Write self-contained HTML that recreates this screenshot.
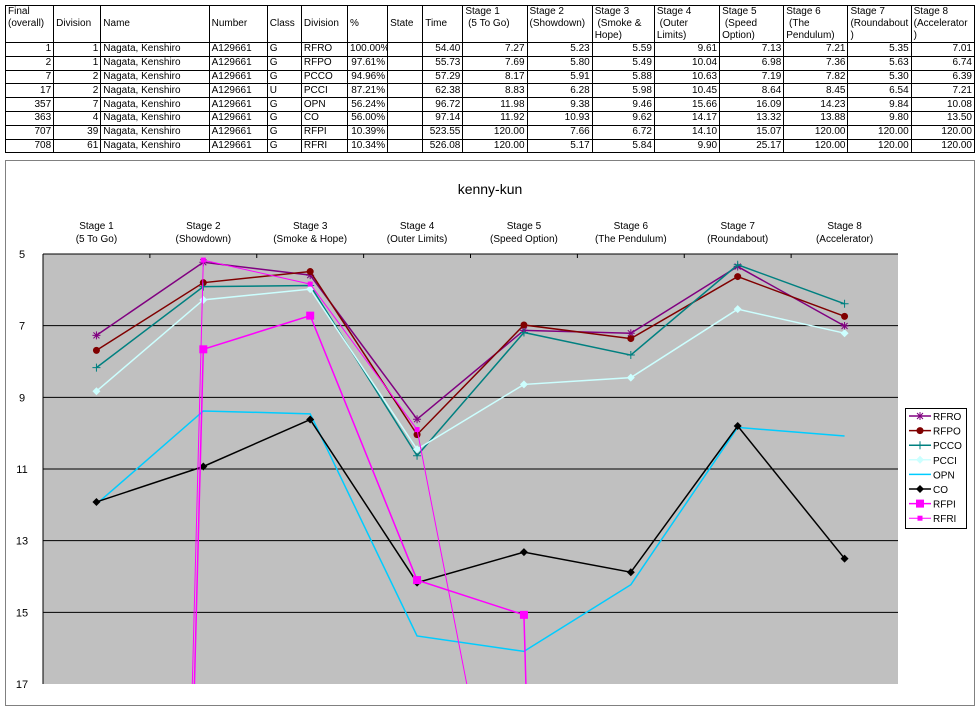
<!DOCTYPE html>
<html style="overflow:hidden;width:980px;height:709px"><head><meta charset="utf-8"><style>
body{margin:0;width:980px;height:709px;background:#fff;font-family:"Liberation Sans","Noto Sans CJK JP",sans-serif;overflow:hidden;position:relative}
table{position:absolute;left:5px;top:5px;border-collapse:collapse;font-size:10px;table-layout:fixed;width:970px}
td{border:1px solid #000;padding:0 2px;height:13.8px;line-height:12px;white-space:nowrap;overflow:hidden;box-sizing:border-box}
tr.h td{height:37px;vertical-align:top;line-height:12px;padding-top:0}
td.r{text-align:right}
</style></head><body>
<table>
<colgroup><col style="width:48px"><col style="width:47px"><col style="width:108px"><col style="width:58px"><col style="width:34px"><col style="width:46px"><col style="width:40px"><col style="width:35px"><col style="width:40px"><col style="width:64px"><col style="width:65px"><col style="width:62px"><col style="width:65px"><col style="width:64px"><col style="width:64px"><col style="width:63px"><col style="width:63px"></colgroup>
<tr class="h"><td>Final<br>(overall)</td><td style="vertical-align:middle">Division</td><td style="vertical-align:middle">Name</td><td style="vertical-align:middle">Number</td><td style="vertical-align:middle">Class</td><td style="vertical-align:middle">Division</td><td style="vertical-align:middle">%</td><td style="vertical-align:middle">State</td><td style="vertical-align:middle">Time</td><td>Stage 1<br>&nbsp;(5 To Go)</td><td>Stage 2<br>(Showdown)</td><td>Stage 3<br>&nbsp;(Smoke &amp;<br>Hope)</td><td>Stage 4<br>&nbsp;(Outer<br>Limits)</td><td>Stage 5<br>&nbsp;(Speed<br>Option)</td><td>Stage 6<br>&nbsp;(The<br>Pendulum)</td><td>Stage 7<br>(Roundabout<br>)</td><td>Stage 8<br>(Accelerator<br>)</td></tr>
<tr><td class="r">1</td><td class="r">1</td><td>Nagata, Kenshiro</td><td>A129661</td><td>G</td><td>RFRO</td><td class="r">100.00%</td><td></td><td class="r">54.40</td><td class="r">7.27</td><td class="r">5.23</td><td class="r">5.59</td><td class="r">9.61</td><td class="r">7.13</td><td class="r">7.21</td><td class="r">5.35</td><td class="r">7.01</td></tr>
<tr><td class="r">2</td><td class="r">1</td><td>Nagata, Kenshiro</td><td>A129661</td><td>G</td><td>RFPO</td><td class="r">97.61%</td><td></td><td class="r">55.73</td><td class="r">7.69</td><td class="r">5.80</td><td class="r">5.49</td><td class="r">10.04</td><td class="r">6.98</td><td class="r">7.36</td><td class="r">5.63</td><td class="r">6.74</td></tr>
<tr><td class="r">7</td><td class="r">2</td><td>Nagata, Kenshiro</td><td>A129661</td><td>G</td><td>PCCO</td><td class="r">94.96%</td><td></td><td class="r">57.29</td><td class="r">8.17</td><td class="r">5.91</td><td class="r">5.88</td><td class="r">10.63</td><td class="r">7.19</td><td class="r">7.82</td><td class="r">5.30</td><td class="r">6.39</td></tr>
<tr><td class="r">17</td><td class="r">2</td><td>Nagata, Kenshiro</td><td>A129661</td><td>U</td><td>PCCI</td><td class="r">87.21%</td><td></td><td class="r">62.38</td><td class="r">8.83</td><td class="r">6.28</td><td class="r">5.98</td><td class="r">10.45</td><td class="r">8.64</td><td class="r">8.45</td><td class="r">6.54</td><td class="r">7.21</td></tr>
<tr><td class="r">357</td><td class="r">7</td><td>Nagata, Kenshiro</td><td>A129661</td><td>G</td><td>OPN</td><td class="r">56.24%</td><td></td><td class="r">96.72</td><td class="r">11.98</td><td class="r">9.38</td><td class="r">9.46</td><td class="r">15.66</td><td class="r">16.09</td><td class="r">14.23</td><td class="r">9.84</td><td class="r">10.08</td></tr>
<tr><td class="r">363</td><td class="r">4</td><td>Nagata, Kenshiro</td><td>A129661</td><td>G</td><td>CO</td><td class="r">56.00%</td><td></td><td class="r">97.14</td><td class="r">11.92</td><td class="r">10.93</td><td class="r">9.62</td><td class="r">14.17</td><td class="r">13.32</td><td class="r">13.88</td><td class="r">9.80</td><td class="r">13.50</td></tr>
<tr><td class="r">707</td><td class="r">39</td><td>Nagata, Kenshiro</td><td>A129661</td><td>G</td><td>RFPI</td><td class="r">10.39%</td><td></td><td class="r">523.55</td><td class="r">120.00</td><td class="r">7.66</td><td class="r">6.72</td><td class="r">14.10</td><td class="r">15.07</td><td class="r">120.00</td><td class="r">120.00</td><td class="r">120.00</td></tr>
<tr><td class="r">708</td><td class="r">61</td><td>Nagata, Kenshiro</td><td>A129661</td><td>G</td><td>RFRI</td><td class="r">10.34%</td><td></td><td class="r">526.08</td><td class="r">120.00</td><td class="r">5.17</td><td class="r">5.84</td><td class="r">9.90</td><td class="r">25.17</td><td class="r">120.00</td><td class="r">120.00</td><td class="r">120.00</td></tr>
</table>
<svg id="chart" width="980" height="709" style="position:absolute;left:0;top:0;display:block">
<rect x="5.5" y="160.5" width="969" height="545" fill="#fff" stroke="#808080"/>
<text x="490" y="194" text-anchor="middle" font-size="14" font-family="Liberation Sans, sans-serif">kenny-kun</text>
<defs><clipPath id="pc"><rect x="43" y="254" width="855" height="430"/></clipPath></defs>
<g id="plot"></g>
</svg>
<script>
const categories=["Stage 1|(5 To Go)","Stage 2|(Showdown)","Stage 3|(Smoke & Hope)","Stage 4|(Outer Limits)","Stage 5|(Speed Option)","Stage 6|(The Pendulum)","Stage 7|(Roundabout)","Stage 8|(Accelerator)"];
const yTicks=[5,7,9,11,13,15,17];
const seriesNames=["RFRO","RFPO","PCCO","PCCI","OPN","CO","RFPI","RFRI"];
const rfro=[7.27,5.23,5.59,9.61,7.13,7.21,5.35,7.01];
const rfpo=[7.69,5.80,5.49,10.04,6.98,7.36,5.63,6.74];
const pcco=[8.17,5.91,5.88,10.63,7.19,7.82,5.30,6.39];
const pcci=[8.83,6.28,5.98,10.45,8.64,8.45,6.54,7.21];
const opn=[11.98,9.38,9.46,15.66,16.09,14.23,9.84,10.08];
const co=[11.92,10.93,9.62,14.17,13.32,13.88,9.80,13.50];
const rfpi=[120.00,7.66,6.72,14.10,15.07,120.00,120.00,120.00];
const rfri=[120.00,5.17,5.84,9.90,25.17,120.00,120.00,120.00];
const seriesData=[rfro,rfpo,pcco,pcci,opn,co,rfpi,rfri];
const colors=["#800080","#800000","#008080","#ccffff","#00ccff","#000000","#ff00ff","#ff00ff"];
const markers=["star","circle","plus","diamond","none","diamond","square","smallsq"];
const widths=[1.5,1.5,1.5,1.5,1.5,1.5,1.5,1];

const L=43,R=898,T=254,B=684,yMin=5,yMax=17;
const bw=(R-L)/categories.length;
function xs(i){return L+bw*(i+0.5);}
function ys(v){return T+(v-yMin)/(yMax-yMin)*(B-T);}
const NS="http://www.w3.org/2000/svg";
const g=document.getElementById('plot');
function mk(tag,attrs,parent){const e=document.createElementNS(NS,tag);for(const k in attrs)e.setAttribute(k,attrs[k]);(parent||g).appendChild(e);return e;}

const bg=mk('rect',{x:L,y:T,width:R-L,height:B-T,fill:'#c0c0c0'});


yTicks.forEach(t=>{
  const y=ys(t);
  if(t>yMin&&t<yMax){const gl=mk('line',{x1:L,x2:R,y1:y,y2:y,stroke:'#000','stroke-width':1});
  
  }
  const tl=mk('text',{x:22,y:y+4,'font-size':11,'text-anchor':'middle','font-family':'Liberation Sans, sans-serif'});
  tl.textContent=t;
  
  
});
mk('line',{x1:L,x2:R,y1:T,y2:T,stroke:'#000'});
mk('line',{x1:L,x2:L,y1:T,y2:B,stroke:'#000'});
categories.forEach((c,i)=>{
  const p=c.split('|');
  const tx=mk('text',{x:xs(i),y:229,'font-size':10,'text-anchor':'middle','font-family':'Liberation Sans, sans-serif'});
  const a=mk('tspan',{x:xs(i)},tx);a.textContent=p[0];
  const b=mk('tspan',{x:xs(i),dy:13},tx);b.textContent=p[1];
  
  
  if(i>0)mk('line',{x1:L+bw*i,x2:L+bw*i,y1:T,y2:T+4,stroke:'#000'});
});
function marker(parent,type,x,y,col){
  if(type==='circle')mk('circle',{cx:x,cy:y,r:3.5,fill:col},parent);
  else if(type==='diamond')mk('path',{d:`M${x} ${y-4}L${x+4} ${y}L${x} ${y+4}L${x-4} ${y}Z`,fill:col},parent);
  else if(type==='square')mk('rect',{x:x-4,y:y-4,width:8,height:8,fill:col},parent);
  else if(type==='smallsq')mk('rect',{x:x-2.5,y:y-2.5,width:5,height:5,fill:col},parent);
  else if(type==='plus')mk('path',{d:`M${x-4} ${y}H${x+4}M${x} ${y-4}V${y+4}`,stroke:col,'stroke-width':1},parent);
  else if(type==='star')mk('path',{d:`M${x-4} ${y}H${x+4}M${x} ${y-4}V${y+4}M${x-3} ${y-3}L${x+3} ${y+3}M${x-3} ${y+3}L${x+3} ${y-3}`,stroke:col,'stroke-width':1},parent);
}
const clipG=mk('g',{'clip-path':'url(#pc)'});
seriesData.forEach((arr,si)=>{
  const sg=mk('g',{},clipG);
  
  
  const pts=arr.map((v,i)=>xs(i)+','+ys(v)).join(' ');
  mk('polyline',{points:pts,fill:'none',stroke:colors[si],'stroke-width':widths[si]},sg);
  arr.forEach((v,i)=>{if(markers[si]!=='none')marker(sg,markers[si],xs(i),ys(v),colors[si]);});
});
const lg=mk('g',{});


mk('rect',{x:905.5,y:408.5,width:61,height:120,fill:'#fff',stroke:'#000'},lg);
seriesNames.forEach((n,i)=>{
  const y=416+i*14.6;
  const eg=mk('g',{},lg);
  
  
  mk('line',{x1:909,x2:931,y1:y,y2:y,stroke:colors[i],'stroke-width':widths[i]},eg);
  if(markers[i]!=='none')marker(eg,markers[i],920,y,colors[i]);
  const t=mk('text',{x:933,y:y+4,'font-size':10,'font-family':'Liberation Sans, sans-serif'},eg);
  t.textContent=n;
});
</script>
</body></html>
